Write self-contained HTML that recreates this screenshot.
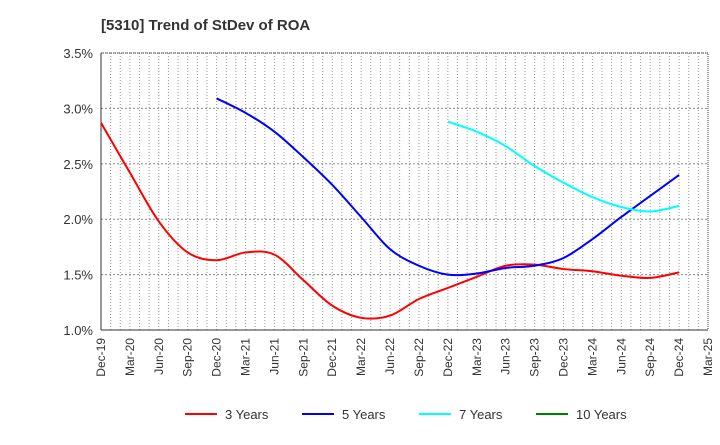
<!DOCTYPE html>
<html><head><meta charset="utf-8"><style>
body{margin:0;background:#fff;font-family:"Liberation Sans",sans-serif}
svg text{font-family:"Liberation Sans",sans-serif}
</style></head><body>
<svg id="c" width="720" height="440" viewBox="0 0 720 440">
<text x="101" y="30" font-size="15" font-weight="bold" fill="#333">[5310]  Trend of StDev of ROA</text>
<g id="grid"></g><g id="axes"></g><g id="series"></g><g id="legend"></g>
</svg>
<script>
const xLabels=["Dec-19","Mar-20","Jun-20","Sep-20","Dec-20","Mar-21","Jun-21","Sep-21","Dec-21","Mar-22","Jun-22","Sep-22","Dec-22","Mar-23","Jun-23","Sep-23","Dec-23","Mar-24","Jun-24","Sep-24","Dec-24","Mar-25"];
const yTicks=[1.0,1.5,2.0,2.5,3.0,3.5];
const s3=[2.87,2.42,1.98,1.70,1.63,1.70,1.68,1.45,1.22,1.11,1.13,1.28,1.38,1.48,1.58,1.59,1.55,1.53,1.49,1.47,1.52];
const s5=[null,null,null,null,3.09,2.96,2.79,2.56,2.31,2.02,1.73,1.58,1.50,1.51,1.56,1.58,1.65,1.82,2.02,2.21,2.40];
const s7=[null,null,null,null,null,null,null,null,null,null,null,null,2.88,2.79,2.66,2.48,2.33,2.20,2.11,2.07,2.12];
const s10=[];
const L=101,R=708,T=53,B=330,NS="http://www.w3.org/2000/svg";
const X=i=>L+(R-L)*i/(xLabels.length-1);
const Y=v=>B-(v-1.0)/(3.5-1.0)*(B-T);
function mk(t,a,p){const e=document.createElementNS(NS,t);for(const k in a)e.setAttribute(k,a[k]);p.appendChild(e);return e;}
const g=document.getElementById('grid'),ax=document.getElementById('axes'),se=document.getElementById('series'),lg=document.getElementById('legend');
for(let m=1;m<(xLabels.length-1)*3;m++){const x=L+(R-L)*m/((xLabels.length-1)*3);
const l=mk('line',{x1:x,x2:x,y1:T,y2:B,stroke:'#999','stroke-dasharray':'1,2','stroke-width':1},g);

}
yTicks.forEach(v=>{const l=mk('line',{x1:L,x2:R,y1:Y(v),y2:Y(v),stroke:'#888','stroke-dasharray':'2,2'},g);


const t=mk('text',{x:L-8,y:Y(v)+5,'text-anchor':'end','font-size':13,fill:'#333'},ax);t.textContent=v.toFixed(1)+'%';

});
const fr=mk('rect',{x:L,y:T,width:R-L,height:B-T,fill:'none',stroke:'#333','stroke-dasharray':'1,1'},ax);


const bl=mk('line',{x1:L,x2:R,y1:B,y2:B,stroke:'#333'},ax);


const ll=mk('line',{x1:L,x2:L,y1:T,y2:B,stroke:'#333'},ax);


xLabels.forEach((s,i)=>{const x=X(i);const t=mk('text',{x:x+4,y:B+8,'text-anchor':'end','font-size':12,fill:'#333',transform:`rotate(-90 ${x+4} ${B+8})`},ax);t.textContent=s;

});
function path(arr){const p=[];arr.forEach((v,i)=>{if(v!=null)p.push([X(i),Y(v)]);});if(p.length<2)return '';
let d=`M${p[0][0]},${p[0][1]}`;for(let i=0;i<p.length-1;i++){const p0=p[i-1]||p[i],p1=p[i],p2=p[i+1],p3=p[i+2]||p2;
d+=` C${p1[0]+(p2[0]-p0[0])/6},${p1[1]+(p2[1]-p0[1])/6} ${p2[0]-(p3[0]-p1[0])/6},${p2[1]-(p3[1]-p1[1])/6} ${p2[0]},${p2[1]}`;}return d;}
[[s3,'#f00','3 Years','series-3-years'],[s5,'#00f','5 Years','series-5-years'],[s7,'#0ff','7 Years','series-7-years'],[s10,'#008000','10 Years','series-10-years']].forEach((s,k)=>{
const d=path(s[0]);if(d){const e=mk('path',{d:d,fill:'none',stroke:s[1],'stroke-width':2},se);

}
const lx=[185,302,419,536][k];
const gi=mk('g',{},lg);


mk('line',{x1:lx,x2:lx+32,y1:414,y2:414,stroke:s[1],'stroke-width':2},gi);
const t=mk('text',{x:lx+40,y:419,'font-size':13,fill:'#333'},gi);t.textContent=s[2];});
</script>
</body></html>
